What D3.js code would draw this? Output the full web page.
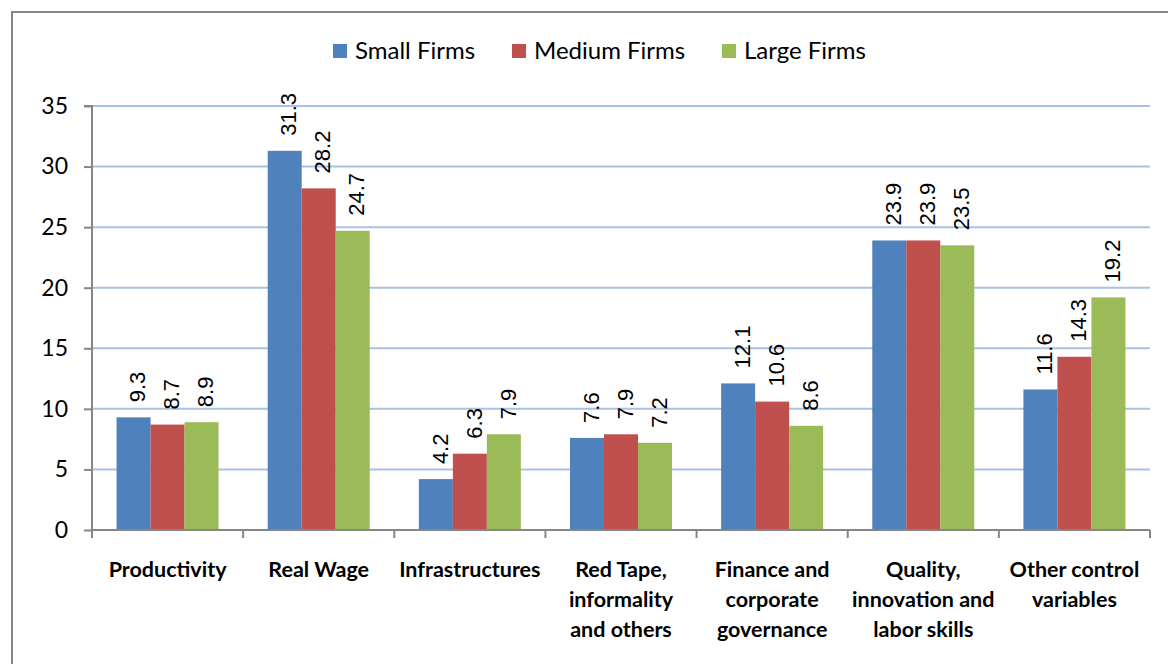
<!DOCTYPE html>
<html>
<head>
<meta charset="utf-8">
<script src="https://cdn.jsdelivr.net/npm/d3@7/dist/d3.min.js"></script>
<style>
  html, body { margin: 0; padding: 0; background: #fff; }
  svg { display: block; }
</style>
</head>
<body>
<svg id="chart" width="1168" height="664"></svg>
<script>
// Obstacle categories (x axis), multi-line labels split on "|"
const categories = [
  "Productivity",
  "Real Wage",
  "Infrastructures",
  "Red Tape,|informality|and others",
  "Finance and|corporate|governance",
  "Quality,|innovation and|labor skills",
  "Other control|variables"
];

// Firm-size series
const seriesNames = ["Small Firms", "Medium Firms", "Large Firms"];
const smallFirms  = [9.3, 31.3, 4.2, 7.6, 12.1, 23.9, 11.6];
const mediumFirms = [8.7, 28.2, 6.3, 7.9, 10.6, 23.9, 14.3];
const largeFirms  = [8.9, 24.7, 7.9, 7.2, 8.6, 23.5, 19.2];
const yTicks = [0, 5, 10, 15, 20, 25, 30, 35];

const seriesValues = [smallFirms, mediumFirms, largeFirms];
const colors = ["#4f81bd", "#c0504d", "#9bbb59"];

const svg = d3.select("#chart");
const W = 1168, H = 664;

// Outer frame
svg.append("rect")
  .attr("x", 12).attr("y", 12)
  .attr("width", W + 20).attr("height", H + 20)
  .attr("fill", "#fff")
  .attr("stroke", "#868686").attr("stroke-width", 2);

const plot = { left: 92, right: 1150, top: 106, bottom: 530 };

const x0 = d3.scaleBand()
  .domain(categories)
  .range([plot.left, plot.right])
  .padding(0);

const groupPad = 0.7225;
const x1 = d3.scaleBand()
  .domain(seriesNames)
  .range([0, x0.bandwidth()])
  .paddingInner(0)
  .paddingOuter(groupPad);

const y = d3.scaleLinear().domain([0, 35]).range([plot.bottom, plot.top]);

const tickFont = "Lato, 'Open Sans', sans-serif";
const valueFont = "'Liberation Sans', Arial, sans-serif";

// Horizontal gridlines
svg.append("g")
  .selectAll("line")
  .data(yTicks.filter(t => t > 0))
  .join("line")
  .attr("x1", plot.left + 1).attr("x2", plot.right)
  .attr("y1", d => y(d)).attr("y2", d => y(d))
  .attr("stroke", "#a9c1e6").attr("stroke-width", 2);

// Bars
const groups = svg.append("g")
  .selectAll("g")
  .data(categories)
  .join("g")
  .attr("transform", d => `translate(${x0(d)},0)`);

groups.each(function(cat, ci) {
  const g = d3.select(this);
  seriesNames.forEach((s, si) => {
    const v = seriesValues[si][ci];
    const bx = x1(s);
    g.append("rect")
      .attr("x", bx)
      .attr("y", y(v))
      .attr("width", x1.bandwidth())
      .attr("height", y(0) - y(v))
      .attr("fill", colors[si]);
    const cx = bx + x1.bandwidth() / 2 + 4;
    const ty = y(v) - 15;
    g.append("text")
      .attr("transform", `translate(${cx},${ty}) rotate(-90)`)
      .attr("dy", "0.35em")
      .attr("text-anchor", "start")
      .attr("font-family", valueFont)
      .attr("font-size", 22)
      .attr("fill", "#000")
      .text(v.toFixed(1));
  });
});

// Y axis
const yAxis = d3.axisLeft(y).tickValues(yTicks).tickSize(8).tickPadding(16);
const yg = svg.append("g").attr("transform", `translate(${plot.left},0)`).call(yAxis);
yg.select(".domain").attr("stroke", "#868686").attr("stroke-width", 2)
  .attr("d", `M-8,${plot.top}H0V${plot.bottom}`);
yg.selectAll(".tick line").attr("stroke", "#868686").attr("stroke-width", 2);
yg.selectAll(".tick text")
  .attr("font-family", tickFont).attr("font-size", 23).attr("fill", "#000");

// X axis: ticks sit on the category boundaries
const boundaries = categories.map(c => x0(c)).concat([plot.right]);
const xg = svg.append("g");
xg.append("line")
  .attr("x1", plot.left).attr("x2", plot.right)
  .attr("y1", plot.bottom).attr("y2", plot.bottom)
  .attr("stroke", "#868686").attr("stroke-width", 2);
xg.selectAll(".bt")
  .data(boundaries)
  .join("line")
  .attr("class", "bt")
  .attr("x1", d => d).attr("x2", d => d)
  .attr("y1", plot.bottom).attr("y2", plot.bottom + 8)
  .attr("stroke", "#868686").attr("stroke-width", 2);

// Category labels
const catLabels = svg.append("g")
  .selectAll("text")
  .data(categories)
  .join("text")
  .attr("x", d => x0(d) + x0.bandwidth() / 2)
  .attr("y", 577)
  .attr("text-anchor", "middle")
  .attr("font-family", tickFont)
  .attr("font-weight", "bold")
  .attr("font-size", 21.5)
  .attr("fill", "#000");
catLabels.each(function(d) {
  const t = d3.select(this);
  d.split("|").forEach((line, i) => {
    t.append("tspan")
      .attr("x", x0(d) + x0.bandwidth() / 2)
      .attr("dy", i === 0 ? 0 : 30)
      .text(line);
  });
});

// Legend
const legendItems = [
  { name: seriesNames[0], x: 333 },
  { name: seriesNames[1], x: 512 },
  { name: seriesNames[2], x: 722 }
];
const lg = svg.append("g")
  .selectAll("g")
  .data(legendItems)
  .join("g")
  .attr("transform", d => `translate(${d.x},0)`);
lg.append("rect")
  .attr("x", 0).attr("y", 44)
  .attr("width", 14).attr("height", 14)
  .attr("fill", (d, i) => colors[i]);
lg.append("text")
  .attr("x", 22).attr("y", 59)
  .attr("font-family", tickFont)
  .attr("font-size", 24)
  .attr("fill", "#000")
  .text(d => d.name);
</script>
</body>
</html>
